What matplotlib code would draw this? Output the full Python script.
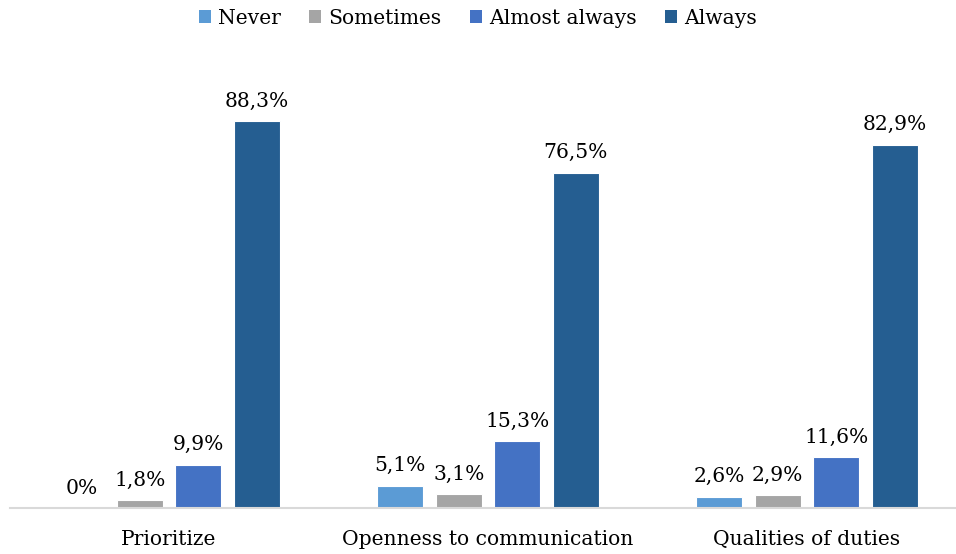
import matplotlib.pyplot as plt
import numpy as np
from matplotlib.patches import Patch

categories = ["Prioritize", "Openness to communication", "Qualities of duties"]
series = ["Never", "Sometimes", "Almost always", "Always"]
values = {
    "Never": [0.0, 5.1, 2.6],
    "Sometimes": [1.8, 3.1, 2.9],
    "Almost always": [9.9, 15.3, 11.6],
    "Always": [88.3, 76.5, 82.9],
}
labels = {
    "Never": ["0%", "5,1%", "2,6%"],
    "Sometimes": ["1,8%", "3,1%", "2,9%"],
    "Almost always": ["9,9%", "15,3%", "11,6%"],
    "Always": ["88,3%", "76,5%", "82,9%"],
}
colors = ["#5B9BD5", "#A5A5A5", "#4472C4", "#255E91"]

plt.rcParams['font.family'] = ['DejaVu Serif']
FS = 14.6

fig = plt.figure(figsize=(9.56, 5.54), dpi=100)
ax = fig.add_axes([9.5 / 956, 1 - 508 / 554, 1 - 9.5 / 956, (508 - 60) / 554])

x = np.arange(len(categories))
step = 0.183
width = 0.144
for i, (name, col) in enumerate(zip(series, colors)):
    pos = x + (i - 1.5) * step
    bars = ax.bar(pos, values[name], width=width, color=col, edgecolor="white", linewidth=0.8, zorder=2)
    for b, lab in zip(bars, labels[name]):
        ax.annotate(lab, (b.get_x() + b.get_width() / 2, b.get_height()),
                    xytext=(0, 7.5), textcoords="offset points",
                    ha="center", va="bottom", fontsize=FS, color="#000000")

ax.set_xlim(-0.5, 2.5 - 10.5 / 319)
ax.set_ylim(0, (508 - 60) / 4.383)
ax.set_xticks(x)
ax.set_xticklabels(categories, fontsize=FS)
ax.tick_params(axis="x", length=0, pad=16)
ax.set_yticks([])
for s in ["top", "right", "left"]:
    ax.spines[s].set_visible(False)
ax.spines["bottom"].set_color("#D9D9D9")
ax.spines["bottom"].set_linewidth(1.5)

handles = [Patch(facecolor=c, edgecolor="none") for c in colors]
fig.legend(handles, series, loc="center", bbox_to_anchor=(0.5, 1 - 18 / 554),
           ncol=4, frameon=False, fontsize=FS, handlelength=0.6, handleheight=0.6,
           handletextpad=0.35, columnspacing=1.4)

fig.savefig("out.png", dpi=100)
